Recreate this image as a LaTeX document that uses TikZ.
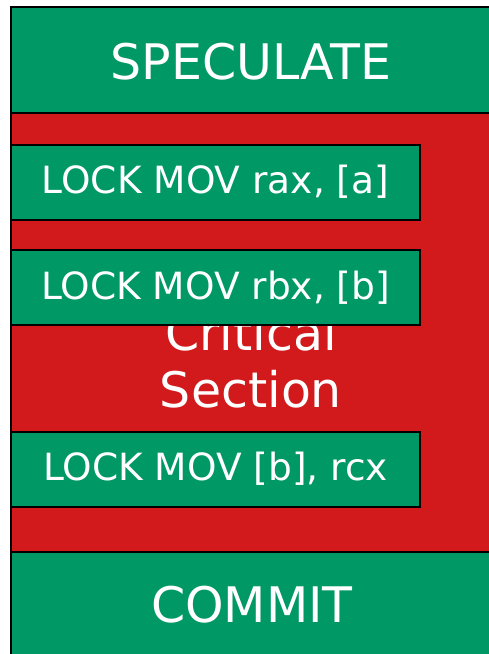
\documentclass[tikz,border=0pt]{standalone}
\usepackage{fontspec}
\setmainfont{DejaVu Sans}
\definecolor{phasegreen}{RGB}{0,152,101}
\definecolor{critred}{RGB}{210,26,28}
\begin{document}
\begin{tikzpicture}[x=1pt,y=-1pt,
  panel/.style={draw=black, line width=2pt, rectangle, inner sep=0pt, anchor=north west},
  greenpanel/.style={panel, fill=phasegreen},
  redpanel/.style={panel, fill=critred},
  bigtext/.style={text=white, font=\fontsize{49}{57}\selectfont, align=center, inner sep=0pt},
  instr/.style={greenpanel, minimum width=409pt, minimum height=75pt},
  instrtext/.style={text=white, font=\fontsize{37.5}{44}\selectfont, inner sep=0pt}]
  \useasboundingbox (0,0) rectangle (489,654);

  % critical section region
  \node[redpanel, minimum width=482pt, minimum height=439pt] (crit) at (10,112) {};
  \node[bigtext] (crittext) at (251,361) {Critical\\Section};

  % speculate / commit phases
  \node[greenpanel, minimum width=482pt, minimum height=106pt] (spec) at (10,6) {};
  \node[bigtext] (spectext) at (251,62) {SPECULATE};
  \node[greenpanel, minimum width=482pt, minimum height=110pt] (commit) at (10,551) {};
  \node[bigtext] (committext) at (252,605) {COMMIT};

  % locked instructions
  \node[instr] (i1) at (10,143.5) {};
  \node[instrtext] at (i1.center) {LOCK MOV rax, [a]};
  \node[instr] (i2) at (10,249) {};
  \node[instrtext] at (i2.center) {LOCK MOV rbx, [b]};
  \node[instr] (i3) at (10,430.5) {};
  \node[instrtext] at (i3.center) {LOCK MOV [b], rcx};
\end{tikzpicture}
\end{document}
